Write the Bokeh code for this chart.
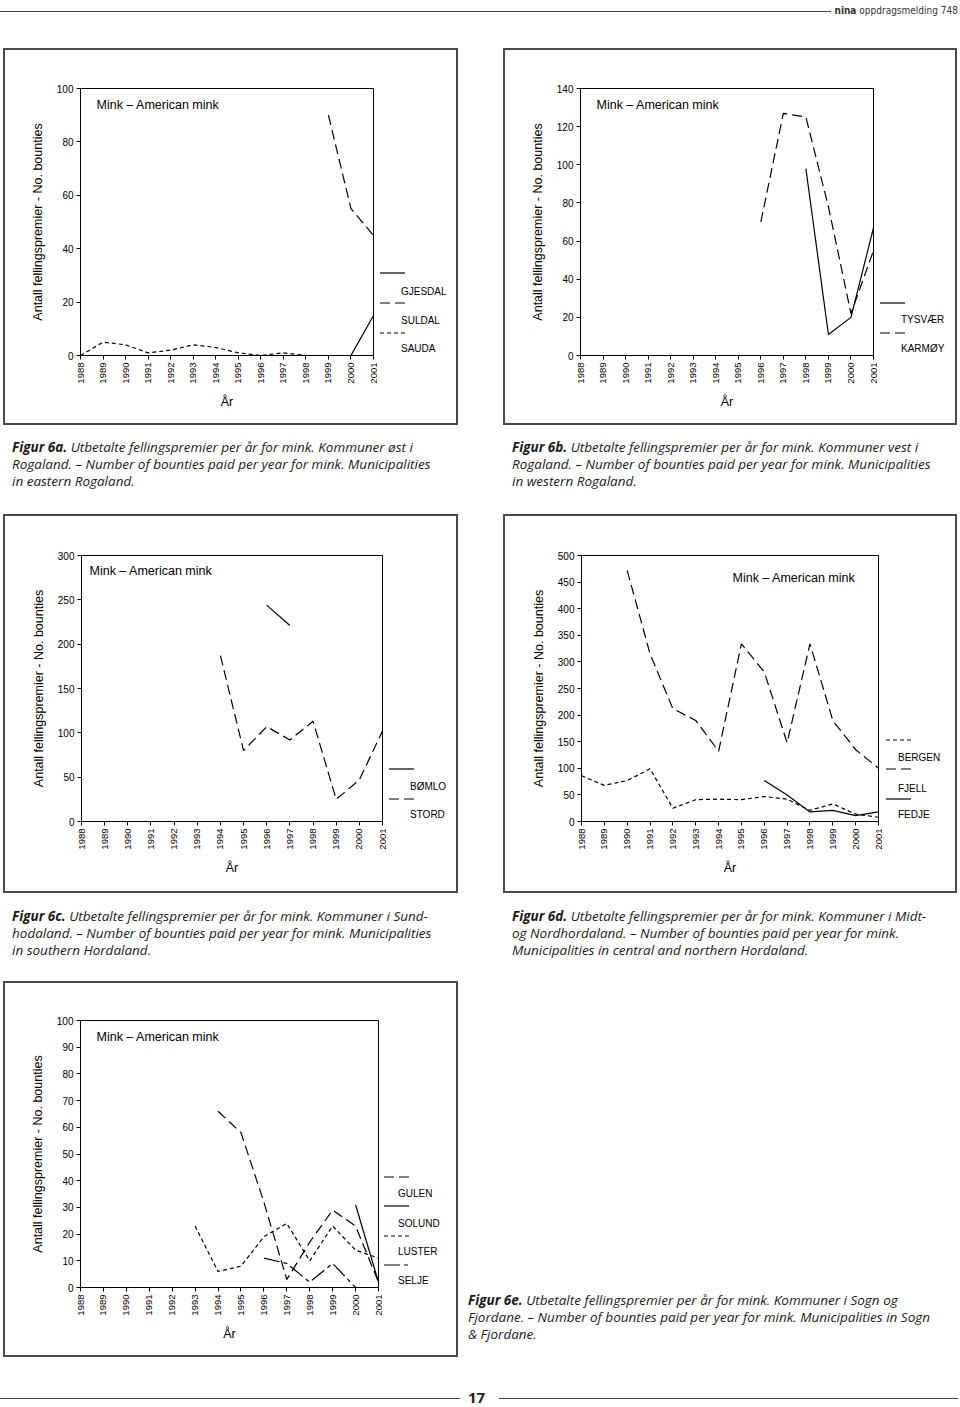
import math
import numpy as np
from bokeh.plotting import figure
from bokeh.models import FixedTicker, Label, Div, Range1d, Spacer
from bokeh.layouts import row, column
from bokeh.embed import file_html
from bokeh.resources import INLINE

nan = float("nan")
years = list(range(1988, 2002))

# ---- Figur 6a (eastern Rogaland)
gjesdal = [nan] * 12 + [0, 15]
suldal = [nan] * 11 + [90, 55, 45]
sauda = [0, 5, 4, 1, 2, 4, 3, 1, 0, 1, 0, nan, nan, nan]
# ---- Figur 6b (western Rogaland)
tysvaer = [nan] * 10 + [98, 11, 20, 67]
karmoy = [nan] * 8 + [70, 127, 125, 78, 22, 55]
# ---- Figur 6c (southern Hordaland)
bomlo = [nan] * 8 + [244, 221, nan, nan, nan, nan]
stord = [nan] * 6 + [187, 80, 107, 92, 113, 25, 47, 102]
# ---- Figur 6d (central/northern Hordaland)
bergen = [86, 68, 77, 99, 25, 41, 42, 41, 47, 42, 21, 33, 14, 8]
fjell = [nan, nan, 472, 315, 212, 190, 132, 334, 281, 148, 334, 190, 135, 100]
fedje = [nan] * 8 + [77, 50, 18, 21, 11, 18]
# ---- Figur 6e (Sogn og Fjordane)
gulen = [nan] * 6 + [66, 58, 32, 3, 17, 29, 23, 2]
solund = [nan] * 12 + [31, 2]
luster = [nan] * 5 + [23, 6, 8, 19, 24, 10, 23, 14, 11]
selje = [nan] * 8 + [11, 9, 2, 9, 0, nan]

yticks_a = [0, 20, 40, 60, 80, 100]
yticks_b = [0, 20, 40, 60, 80, 100, 120, 140]
yticks_c = [0, 50, 100, 150, 200, 250, 300]
yticks_d = [0, 50, 100, 150, 200, 250, 300, 350, 400, 450, 500]
yticks_e = [0, 10, 20, 30, 40, 50, 60, 70, 80, 90, 100]

TITLE = "Mink – American mink"
YLABEL = "Antall fellingspremier - No. bounties"
XLABEL = "År"

captions = {
    "6a": ["<b>Figur 6a.</b> Utbetalte fellingspremier per år for mink. Kommuner øst i",
           "Rogaland. – Number of bounties paid per year for mink. Municipalities",
           "in eastern Rogaland."],
    "6b": ["<b>Figur 6b.</b> Utbetalte fellingspremier per år for mink. Kommuner vest i",
           "Rogaland. – Number of bounties paid per year for mink. Municipalities",
           "in western Rogaland."],
    "6c": ["<b>Figur 6c.</b> Utbetalte fellingspremier per år for mink. Kommuner i Sund-",
           "hodaland. – Number of bounties paid per year for mink. Municipalities",
           "in southern Hordaland."],
    "6d": ["<b>Figur 6d.</b> Utbetalte fellingspremier per år for mink. Kommuner i Midt-",
           "og Nordhordaland. – Number of bounties paid per year for mink.",
           "Municipalities in central and northern Hordaland."],
    "6e": ["<b>Figur 6e.</b> Utbetalte fellingspremier per år for mink. Kommuner i Sogn og",
           "Fjordane. – Number of bounties paid per year for mink. Municipalities in Sogn",
           "&amp; Fjordane."],
}

FONT = "Liberation Sans"
CAP_FONT = "'Open Sans', sans-serif"
DASH = {"solid": "solid", "long": "10 5", "short": "4 3", "dashdot": "16 4 4 4"}
BOX = "#4a4a4a"


def make_chart(series, yticks, w, h, ml, mr, mt, mb, frame, title_at):
    L, B = frame
    p = figure(width=w, height=h, x_range=Range1d(1988, 2001), y_range=Range1d(0, yticks[-1]),
               output_backend="svg", toolbar_location=None, title=None,
               min_border_left=ml, min_border_right=mr, min_border_top=mt, min_border_bottom=mb,
               margin=0)
    p.background_fill_color = "white"
    p.border_fill_color = "white"
    p.outline_line_color = "black"
    p.outline_line_width = 1
    p.outline_line_alpha = 1
    p.xgrid.visible = False
    p.ygrid.visible = False

    for name, vals, dash in series:
        p.line(years, np.array(vals, dtype=float), line_color="black", line_width=1.2,
               line_dash=DASH[dash])

    p.xaxis.ticker = FixedTicker(ticks=years)
    p.yaxis.ticker = FixedTicker(ticks=yticks)
    for ax in (p.xaxis[0], p.yaxis[0]):
        ax.axis_line_color = "black"
        ax.axis_line_width = 1
        ax.major_tick_line_color = "black"
        ax.minor_tick_line_color = None
        ax.major_tick_out = 4
        ax.major_tick_in = 0
        ax.major_label_text_font = FONT
        ax.major_label_text_color = "black"
        ax.major_label_standoff = 3
        ax.axis_label_text_font = FONT
        ax.axis_label_text_font_size = "12.5px"
        ax.axis_label_text_font_style = "normal"
        ax.axis_label_text_color = "black"
    p.xaxis.major_label_text_font_size = "9.5px"
    p.yaxis.major_label_text_font_size = "10px"
    p.xaxis.major_label_orientation = math.pi / 2
    p.xaxis.axis_label = XLABEL
    p.yaxis.axis_label = YLABEL
    p.xaxis.axis_label_standoff = 8
    p.yaxis.axis_label_standoff = 9

    tx, ty = title_at
    p.add_layout(Label(x=tx - L, y=B - ty, x_units="screen", y_units="screen", text=TITLE,
                       text_font=FONT, text_font_size="12.5px", text_baseline="middle",
                       text_align="left", text_color="black"))
    return p


SVG_DASH = {"solid": "", "long": "10 5", "short": "4 3", "dashdot": "16 4 4 4"}


def legend_div(w, h, origin, entries, line_x, text_x):
    ox, oy = origin
    parts = [f'<svg width="{w}" height="{h}" style="display:block">']
    for name, dash, ly, ty in entries:
        da = f' stroke-dasharray="{SVG_DASH[dash]}"' if SVG_DASH[dash] else ""
        parts.append(f'<line x1="{line_x - ox}" y1="{ly - oy}" x2="{line_x - ox + 25}" y2="{ly - oy}" '
                     f'stroke="black" stroke-width="1.2"{da}/>')
        parts.append(f'<text x="{text_x - ox}" y="{ty - oy}" font-family="Liberation Sans" '
                     f'font-size="10" dominant-baseline="central" fill="black">{name}</text>')
    parts.append("</svg>")
    return Div(text="".join(parts), width=w, height=h, margin=0)


def line_div(w, h):
    return Div(text="", width=w, height=h, margin=0, styles={"background-color": BOX})


def boxed(children, w, h):
    return column(line_div(w + 4, 2),
                  row(line_div(2, h), *children, line_div(2, h), spacing=0),
                  line_div(w + 4, 2), spacing=0)


def caption_div(lines, w, h, pl, pt):
    html = (f'<div style="padding-left:{pl}px;padding-top:{pt}px;font-family:{CAP_FONT};'
            f'font-style:italic;font-size:13.5px;line-height:17px;color:#1a1a1a;white-space:nowrap">'
            + "<br>".join(lines) + "</div>")
    return Div(text=html, width=w, height=h, margin=0)


# ---------- charts ----------
p6a = make_chart([("GJESDAL", gjesdal, "solid"), ("SULDAL", suldal, "long"), ("SAUDA", sauda, "short")],
                 yticks_a, 372, 373, 75, 4, 38, 68, (80, 355), (96, 104))
l6a = legend_div(79, 373, (377, 50),
                 [("GJESDAL", "solid", 273, 291), ("SULDAL", "long", 303, 320), ("SAUDA", "short", 333, 348)],
                 380, 401)

p6b = make_chart([("TYSVÆR", tysvaer, "solid"), ("KARMØY", karmoy, "long")],
                 yticks_b, 372, 373, 75, 4, 38, 68, (580, 355), (596, 104))
l6b = legend_div(78, 373, (877, 50),
                 [("TYSVÆR", "solid", 303, 319), ("KARMØY", "long", 333, 348)], 880, 901)

p6c = make_chart([("BØMLO", bomlo, "solid"), ("STORD", stord, "long")],
                 yticks_c, 381, 375, 76, 4, 39, 70, (81, 821), (89, 570))
l6c = legend_div(70, 375, (386, 516),
                 [("BØMLO", "solid", 769, 786), ("STORD", "long", 799, 814)], 389, 410)

p6d = make_chart([("BERGEN", bergen, "short"), ("FJELL", fjell, "long"), ("FEDJE", fedje, "solid")],
                 yticks_d, 377, 375, 76, 4, 39, 70, (581, 821), (732, 577))
l6d = legend_div(73, 375, (882, 516),
                 [("BERGEN", "short", 740, 757), ("FJELL", "long", 769, 788), ("FEDJE", "solid", 799, 814)],
                 886, 898)

p6e = make_chart([("GULEN", gulen, "long"), ("SOLUND", solund, "solid"), ("LUSTER", luster, "short"),
                  ("SELJE", selje, "dashdot")],
                 yticks_e, 377, 372, 75, 4, 37, 68, (80, 1287), (96, 1036))
l6e = legend_div(74, 372, (382, 983),
                 [("GULEN", "long", 1177, 1193), ("SOLUND", "solid", 1206, 1223),
                  ("LUSTER", "short", 1236, 1251), ("SELJE", "dashdot", 1265, 1280)], 384, 398)

header = Div(width=960, height=48, margin=0, text=(
    '<div style="display:flex;align-items:center;height:14px;width:958px">'
    '<div style="flex:1;border-top:1.5px solid #444;margin-right:3px"></div>'
    '<span style="font-family:\'Liberation Sans Narrow\',\'DejaVu Sans Condensed\',sans-serif;'
    'font-size:10px;color:#333;white-space:nowrap"><b>nina</b> oppdragsmelding 748</span></div>'))

footer = Div(width=960, height=48, margin=0, text=(
    '<div style="display:flex;align-items:center;height:16px;margin-top:33px;width:958px">'
    '<div style="width:460px;border-top:1.5px solid #444"></div>'
    '<span style="margin-left:8px;font-family:\'Open Sans\',sans-serif;font-weight:bold;'
    'font-size:15px;color:#222">17</span>'
    '<div style="flex:1;border-top:1.5px solid #444;margin-left:14px"></div></div>'))

row1 = row(Spacer(width=3, height=377, margin=0), boxed([p6a, l6a], 451, 373),
           Spacer(width=45, height=377, margin=0), boxed([p6b, l6b], 450, 373), spacing=0)
cap1 = row(caption_div(captions["6a"], 503, 89, 12, 14), caption_div(captions["6b"], 457, 89, 9, 14),
           spacing=0)
row2 = row(Spacer(width=3, height=379, margin=0), boxed([p6c, l6c], 451, 375),
           Spacer(width=45, height=379, margin=0), boxed([p6d, l6d], 450, 375), spacing=0)
cap2 = row(caption_div(captions["6c"], 503, 88, 12, 15), caption_div(captions["6d"], 457, 88, 9, 15),
           spacing=0)
row3 = row(Spacer(width=3, height=376, margin=0), boxed([p6e, l6e], 451, 372),
           caption_div(captions["6e"], 502, 376, 10, 311), spacing=0)

page = column(header, row1, cap1, row2, cap2, row3, footer, spacing=0)

open("out.html", "w").write(file_html(page, INLINE, title="Figur 6 – mink"))
